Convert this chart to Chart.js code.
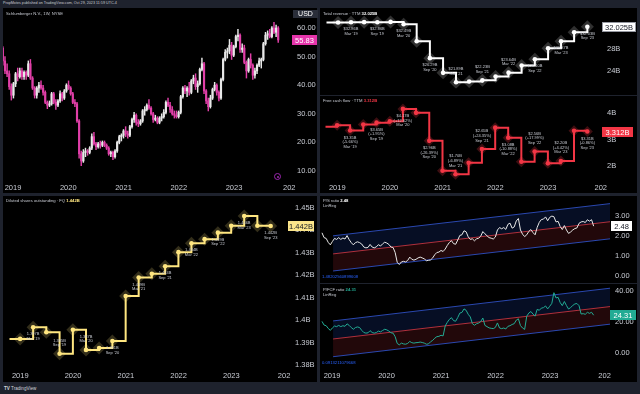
<!DOCTYPE html>
<html><head><meta charset="utf-8"><title>SLB fundamentals</title>
<script src="https://cdn.jsdelivr.net/npm/chart.js@4.4.1/dist/chart.umd.min.js"></script>
<style>
html,body{margin:0;padding:0;width:640px;height:394px;overflow:hidden;background:#1e222d;font-family:"Liberation Sans",Arial,sans-serif;}
.pane{position:absolute;background:#000;}
canvas{position:absolute;display:block;}
.t{position:absolute;white-space:nowrap;color:#c9ccd4;font-size:4.2px;line-height:5px;}
.t b{font-weight:bold;}
</style></head>
<body>
<div class="t" style="left:3px;top:1px;font-size:3.7px;">PropMotes published on TradingView.com, Oct 29, 2023 11:59 UTC-4</div>
<div class="pane" style="left:3px;top:8px;width:314px;height:185px"></div>
<div class="pane" style="left:320px;top:8px;width:317px;height:87px"></div>
<div class="pane" style="left:320px;top:96px;width:317px;height:97px"></div>
<div class="pane" style="left:3px;top:196px;width:314px;height:186px"></div>
<div class="pane" style="left:320px;top:196px;width:317px;height:87px"></div>
<div class="pane" style="left:320px;top:284px;width:317px;height:98px"></div>
<canvas id="cPrice" width="314" height="185" style="left:3px;top:8px"></canvas>
<canvas id="cRev" width="317" height="87" style="left:320px;top:8px"></canvas>
<canvas id="cFcf" width="317" height="97" style="left:320px;top:96px"></canvas>
<canvas id="cSh" width="314" height="186" style="left:3px;top:196px"></canvas>
<canvas id="cPs" width="317" height="87" style="left:320px;top:196px"></canvas>
<canvas id="cPf" width="317" height="98" style="left:320px;top:284px"></canvas>

<div class="t" style="left:6px;top:11px">Schlumberger N.V., 1W, NYSE</div>
<div style="position:absolute;left:293px;top:10px;width:25px;height:8px;background:#2a2e39;color:#fff;font-size:7px;line-height:8px;text-align:center">USD</div>
<div style="position:absolute;left:274px;top:173px;width:5px;height:5px;border:1px solid #9c27b0;border-radius:50%"></div>
<div style="position:absolute;left:276.5px;top:175.5px;width:2px;height:2px;background:#9c27b0;border-radius:50%"></div>
<div class="t" style="left:323px;top:11px">Total revenue · TTM <b style="color:#fff">32.025B</b></div>
<div class="t" style="left:323px;top:98px">Free cash flow · TTM <b style="color:#f23645">3.312B</b></div>
<div class="t" style="left:6px;top:198px">Diluted shares outstanding · FQ <b style="color:#ffe680">1.442B</b></div>
<div class="t" style="left:323px;top:198px">P/S ratio <b style="color:#fff">2.48</b><br>LinReg</div>
<div class="t" style="left:322px;top:274px;color:#2962ff">1.48202560899608</div>
<div class="t" style="left:323px;top:287px">P/FCF ratio <b style="color:#22ab94">24.31</b><br>LinReg</div>
<div class="t" style="left:322px;top:360px;color:#2962ff">0.0913211079668</div>
<div class="t" style="left:4px;top:386px;font-size:4.6px;color:#d1d4dc"><b>TV</b> TradingView</div>

<script>
// ---------------- DATA ----------------
const yearTicks  = [2019, 2020, 2021, 2022, 2023, 2024];
const yearLabels = ['2019', '2020', '2021', '2022', '2023', '202'];

// Schlumberger weekly chart, read every 2 weeks starting 2018-10-26
const priceStart = [2018, 9, 26];
const priceStepDays = 14;
const priceOpen = [
 53,48.5,45,44,39.5,36.5,40.5,44,43,45,
 43,44.5,43.5,47.5,42.5,39,36.5,39,40,39,
 37.5,34,33,33.5,37,34,33,34.5,37,35.5,
 38,40,39,37,34,33.5,27.5,16,13.5,16.5,
 17,16.5,18,22,19.5,18.5,19.5,19,20,19,
 18,16,16.5,15,17,20,22,22.5,24,23,
 22.5,25.5,28,29.5,27,26.5,27.5,31,31.5,33,
 32,30,28,28.5,27,28.5,29,30.5,34,33,
 31.5,30,29.5,29,30.5,36,39,38,39,37.5,
 41.5,42.5,39.5,40.5,45.5,47.5,38,34.5,32.5,35.5,
 38.5,40,37.5,35.5,42,49,51.5,52,54,50.5,
 53.5,57,57.5,52.5,53,48,45,49,47,43.5,
 45,47,48.5,49,54.5,57.5,58,57,60,58.5,
 60];
const priceHigh = [
 53.5,50,47.5,45,40.5,41,44.5,46,46,46,
 45,45,48.5,49,43,39.5,39.5,41,41.5,40,
 38,34.5,34.5,37.5,37.5,35,35,38,37.5,38.5,
 40.5,41.5,39.5,37.5,35,34,28,17,17.5,18,
 17.5,18.5,23,23.5,20,20,20.5,20.5,20.5,19.5,
 18.5,17,17,17.5,20.5,22.5,23,24.5,25.5,24,
 26,28.5,30.5,30,28,28,31.5,32.5,33.5,35,
 32.5,30.5,29.5,29,29,30,31.5,34.5,35.5,34,
 32.5,31,31,31,36.5,39.5,40,39.5,41,42,
 43.5,44,41.5,46,49.5,48,38.5,35.5,36.5,39,
 41,40.5,38,42.5,49.5,52.5,53,56,55,54,
 57.5,59.5,58,54.5,54,48.5,49.5,51,47.5,46,
 47.5,49.5,49.5,55,58.5,59,59.5,60.5,62,61,
 60.5];
const priceLow = [
 47,44,43,38.5,34.8,35.5,39.5,41.5,42.5,42,
 42,42,43,42,38.5,35.5,35.5,37.5,38.5,36.5,
 33.5,31.8,32.5,33,33.5,31.5,32.5,34,34.5,35,
 37.5,38.5,36.5,33.5,32.5,27,14.5,11.9,13,15,
 15.5,16,17.5,19,17.5,18,18,18.5,18.5,17.5,
 15.5,15,14,14.5,16.5,19.5,20.5,21.5,22,21.5,
 22,25,27,26,25.5,26,27,29.5,31,31.5,
 29.5,27,27.5,26.5,26.5,27.5,28.5,30,32.5,30.5,
 29.5,28.5,28.5,28.5,30,35.5,37,36,36.5,37,
 40.5,38.5,37.5,40,45,37,33.5,31,32,35,
 38,36.5,34.5,35,41.5,48.5,49.5,51,49,50,
 53,55.5,51.5,51.5,47.5,42.5,44.5,46,42,42.5,
 44,46.5,46,48.5,54,56,56.5,56.5,58,57,
 55];
const priceClose = [
 48.5,45,44,39.5,36.5,40.5,44,43,45,43,
 44.5,43.5,47.5,42.5,39,36.5,39,40,39,37.5,
 34,33,33.5,37,34,33,34.5,37,35.5,38,
 40,39,37,34,33.5,27.5,16,13.5,16.5,17,
 16.5,18,22,19.5,18.5,19.5,19,20,19,18,
 16,16.5,15,17,20,22,22.5,24,23,22.5,
 25.5,28,29.5,27,26.5,27.5,31,31.5,33,32,
 30,28,28.5,27,28.5,29,30.5,34,33,31.5,
 30,29.5,29,30.5,36,39,38,39,37.5,41.5,
 42.5,39.5,40.5,45.5,47.5,38,34.5,32.5,35.5,38.5,
 40,37.5,35.5,42,49,51.5,52,54,50.5,53.5,
 57,57.5,52.5,53,48,45,49,47,43.5,45,
 47,48.5,49,54.5,57.5,58,57,60,58.5,60,
 55.83];

// P/S and P/FCF ratios on the same 2-week dates
const psRatio = [
 2.15,1.91,1.87,1.67,1.55,1.72,1.87,1.82,1.91,1.82,
 1.89,1.84,2.01,1.81,1.66,1.55,1.66,1.70,1.66,1.59,
 1.44,1.40,1.42,1.57,1.44,1.40,1.45,1.56,1.49,1.60,
 1.68,1.64,1.57,1.44,1.42,1.17,0.68,0.57,0.70,0.73,
 0.70,0.77,0.94,0.83,0.79,0.83,0.90,0.94,0.90,0.85,
 0.76,0.78,0.80,0.90,1.06,1.17,1.19,1.27,1.22,1.34,
 1.52,1.67,1.76,1.61,1.58,1.79,2.02,2.05,2.25,2.20,
 1.95,1.82,1.85,1.75,1.85,1.88,1.98,2.21,2.10,2.00,
 1.91,1.88,1.84,1.94,2.29,2.41,2.35,2.41,2.32,2.57,
 2.63,2.38,2.44,2.74,2.86,2.29,2.08,1.96,2.05,2.22,
 2.31,2.16,2.05,2.42,2.67,2.81,2.83,2.94,2.75,2.92,
 2.98,2.95,2.69,2.72,2.46,2.31,2.51,2.29,2.12,2.19,
 2.29,2.36,2.39,2.62,2.69,2.71,2.66,2.80,2.73,2.80,
 2.48];
const pfcfRatio = [
 20.3,17.9,17.5,15.7,14.5,16.1,17.3,16.9,17.7,16.9,
 17.5,17.1,18.7,17.7,16.3,15.2,16.3,16.7,16.3,14.5,
 13.1,12.7,12.9,14.3,13.1,12.7,13.1,14.0,13.5,14.4,
 15.2,14.8,14.0,12.9,12.7,10.4,6.0,5.1,6.2,5.7,
 5.5,6.0,7.3,6.5,6.2,6.5,6.6,6.9,6.6,6.2,
 5.5,5.7,7.1,8.0,9.4,10.4,10.6,11.3,10.9,17.3,
 19.7,21.6,22.7,20.8,20.4,22.8,25.7,26.1,28.4,27.5,
 24.9,23.2,18.8,17.8,18.8,19.2,20.2,22.5,17.7,16.9,
 16.1,15.8,15.6,16.4,19.3,16.0,15.6,16.0,15.4,17.1,
 17.5,18.3,18.8,21.1,22.0,17.6,16.0,15.1,23.7,25.7,
 26.7,25.0,23.7,28.1,27.5,28.9,29.2,30.3,28.4,30.1,
 32.0,38.9,35.5,35.9,32.5,30.5,33.2,30.6,28.3,29.3,
 30.6,31.6,31.9,30.5,25.1,25.3,24.9,26.2,25.5,26.2,
 24.31];

// Linear-regression channels (start / end of the channel)
const chanYears = [2019.02, 2024.10];
const psUpper = [2.0, 3.6],  psMid = [1.1, 2.7],  psLower = [0.25, 1.85];
const pfUpper = [20.6, 41.8], pfMid = [8.9, 29.9], pfLower = [-2.6, 18.5];

// Quarterly fundamentals
const quarterEnds = ['2018-09-30','2018-12-31','2019-03-31','2019-06-30','2019-09-30','2019-12-31',
 '2020-03-31','2020-06-30','2020-09-30','2020-12-31','2021-03-31','2021-06-30','2021-09-30','2021-12-31',
 '2022-03-31','2022-06-30','2022-09-30','2022-12-31','2023-03-31','2023-06-30','2023-09-30'];
const revenueTTM = [32.82,32.82,32.86,32.87,32.86,32.92,32.49,29.39,26.29,23.60,21.89,22.03,22.23,22.93,23.64,24.94,26.10,28.09,29.37,31.02,32.025];
const fcfTTM     = [3.49,3.55,3.35,3.58,3.65,3.70,4.17,4.02,2.96,1.83,1.70,2.13,2.65,3.46,3.08,2.17,2.56,2.11,2.20,3.34,3.312];
const sharesFQ   = [1.3916,1.3916,1.3968,1.3946,1.385,1.3957,1.3867,1.3875,1.3907,1.4107,1.419,1.4207,1.424,1.4303,1.4343,1.4361,1.439,1.4421,1.4464,1.4421,1.442];

// Point annotations (every second quarter)
const labelIdx     = [2,4,6,8,10,12,14,16,18,20];
const labelPeriods = ["Mar '19","Sep '19","Mar '20","Sep '20","Mar '21","Sep '21","Mar '22","Sep '22","Mar '23","Sep '23"];
const revLabelText = ['$32.86B','$32.86B','$32.49B','$26.29B','$21.89B','$22.23B','$23.64B','$26.10B','$29.37B','$32.03B'];
const revLabelPos  = ['b','b','b','b','a','a','a','b','b','b'];
const fcfLabelText = ['$3.35B','$3.65B','$4.17B','$2.96B','$1.70B','$2.65B','$3.08B','$2.56B','$2.20B','$3.31B'];
const fcfChange    = ['(-5.66%)','(+1.95%)','(+12.62%)','(-26.39%)','(-6.89%)','(+24.35%)','(-10.88%)','(+17.99%)','(+4.42%)','(-0.86%)'];
const fcfLabelPos  = ['b','b','b','b','a','a','b','a','a','b'];
const shLabelText  = ['1.397B','1.385B','1.387B','1.391B','1.419B','1.424B','1.434B','1.439B','1.446B','1.442B'];
const shLabelPos   = ['b','a','a','b','b','b','b','b','b','b'];

// ---------------- HELPERS ----------------
const TICK = '#c9ccd4';
const FONT = '"Liberation Sans", Arial, sans-serif';
Chart.defaults.font.family = FONT;

function yearOf(d) {
  const y = d.getUTCFullYear();
  const s = Date.UTC(y, 0, 1), e = Date.UTC(y + 1, 0, 1);
  return y + (d.getTime() - s) / (e - s);
}
function parseDate(str) { const p = str.split('-').map(Number); return new Date(Date.UTC(p[0], p[1] - 1, p[2])); }

const candleX = priceClose.map((_, i) => yearOf(new Date(Date.UTC(priceStart[0], priceStart[1], priceStart[2] + priceStepDays * i))));
const qX = quarterEnds.map(s => yearOf(parseDate(s)));

function makeScales(o) {
  return {
    x: {
      type: 'linear', min: o.xMin, max: o.xMax, display: !!o.xH, offset: false,
      grid: { display: false, drawTicks: false, offset: false }, border: { display: false },
      ticks: { color: TICK, font: { size: 7.5 }, padding: 3, maxRotation: 0, autoSkip: false,
               callback: v => { const k = yearTicks.indexOf(v); return k < 0 ? '' : yearLabels[k]; } },
      afterBuildTicks: s => { s.ticks = yearTicks.map(v => ({ value: v })); },
      afterFit: s => { s.height = o.xH || 0; s.paddingLeft = 0; s.paddingRight = 0; }
    },
    y: {
      position: 'right', min: o.yMin, max: o.yMax,
      grid: { display: false, drawTicks: false }, border: { display: false },
      ticks: { color: TICK, font: { size: 7.5 }, padding: o.yPad, callback: o.yFmt },
      afterBuildTicks: s => { s.ticks = o.yTicks.map(v => ({ value: v })); },
      afterFit: s => { s.width = o.yW; s.paddingTop = 0; s.paddingBottom = 0; }
    }
  };
}
function makeOptions(o) {
  return {
    responsive: false, animation: false, devicePixelRatio: 1, events: [],
    layout: { padding: 0 },
    plugins: { legend: { display: false }, tooltip: { enabled: false },
               filler: { drawTime: 'beforeDatasetsDraw', propagate: false } },
    scales: makeScales(o)
  };
}
function valueBox(value, text, bg, fg, dx, w, border) {
  return { id: 'valueBox', afterDraw(chart) {
    const ctx = chart.ctx, a = chart.chartArea;
    const y = Math.round(chart.scales.y.getPixelForValue(value));
    const x0 = a.right + dx;
    ctx.save();
    ctx.fillStyle = bg; ctx.fillRect(x0, y - 5, w, 10);
    if (border) { ctx.strokeStyle = border; ctx.lineWidth = 1; ctx.strokeRect(x0 + 0.5, y - 4.5, w - 1, 9); }
    ctx.fillStyle = fg; ctx.font = '7.5px ' + FONT; ctx.textAlign = 'center'; ctx.textBaseline = 'middle';
    ctx.fillText(text, x0 + w / 2, y + 0.5);
    ctx.restore();
  } };
}
function pointLabels(dsIndex, idx, lines, pos) {
  return { id: 'pointLabels', afterDatasetsDraw(chart) {
    const ctx = chart.ctx, meta = chart.getDatasetMeta(dsIndex);
    ctx.save(); ctx.font = '4px ' + FONT; ctx.fillStyle = '#c9ccd4';
    ctx.textAlign = 'center'; ctx.textBaseline = 'top';
    const lh = 4.6;
    idx.forEach((di, k) => {
      const p = meta.data[di]; if (!p) return;
      const ls = lines[k];
      const y0 = pos[k] === 'a' ? p.y - 6 - ls.length * lh : p.y + 5;
      ls.forEach((t, j) => ctx.fillText(t, p.x, y0 + j * lh));
    });
    ctx.restore();
  } };
}
function stepChart(id, values, lineColor, diamondColor, diamondR, o, labels, box) {
  const pts = qX.map((x, i) => ({ x, y: values[i] }));
  return new Chart(document.getElementById(id), {
    type: 'line',
    data: { datasets: [
      { data: pts, borderColor: lineColor, borderWidth: 2, stepped: true, fill: false,
        pointRadius: c => c.dataIndex === 0 ? 0 : 2.3, pointBackgroundColor: lineColor, pointBorderWidth: 0 },
      { data: pts, showLine: false, pointStyle: 'rectRot',
        pointRadius: c => c.dataIndex === 0 ? 0 : diamondR, pointBackgroundColor: diamondColor, pointBorderWidth: 0 }
    ] },
    options: makeOptions(o),
    plugins: [labels, box]
  });
}
function channelChart(id, values, lineColor, up, mid, lo, o, box) {
  const ch = arr => chanYears.map((x, i) => ({ x, y: arr[i] }));
  return new Chart(document.getElementById(id), {
    type: 'line',
    data: { datasets: [
      { data: candleX.map((x, i) => ({ x, y: values[i] })), borderColor: lineColor, borderWidth: 1, pointRadius: 0, fill: false },
      { data: ch(up), borderColor: '#2a48b0', borderWidth: 1, pointRadius: 0, fill: '+1', backgroundColor: 'rgba(41,98,255,0.14)' },
      { data: ch(mid), borderColor: '#b0303c', borderWidth: 1, pointRadius: 0, fill: '+1', backgroundColor: 'rgba(242,54,69,0.14)' },
      { data: ch(lo), borderColor: '#2a48b0', borderWidth: 1, pointRadius: 0, fill: false }
    ] },
    options: makeOptions(o),
    plugins: [box]
  });
}

// ---------------- CHARTS ----------------
const UP = '#e8e8e8', DOWN = '#e03fa8';
const candleColors = priceClose.map((c, i) => c >= priceOpen[i] ? UP : DOWN);
new Chart(document.getElementById('cPrice'), {
  type: 'bar',
  data: { datasets: [
    { data: candleX.map((x, i) => ({ x, y: [priceOpen[i], priceClose[i]] })), backgroundColor: candleColors,
      barThickness: 1.5, grouped: false, minBarLength: 1 },
    { data: candleX.map((x, i) => ({ x, y: [priceLow[i], priceHigh[i]] })), backgroundColor: candleColors,
      barThickness: 0.8, grouped: false }
  ] },
  options: makeOptions({ xMin: 2018.819, xMax: 2023.995, xH: 13, yMin: 6.85, yMax: 67.0,
    yTicks: [10, 20, 30, 40, 50, 60], yW: 28, yPad: 8, yFmt: v => v.toFixed(2) }),
  plugins: [valueBox(55.83, '55.83', '#e535ab', '#ffffff', 3, 25)]
});

stepChart('cRev', revenueTTM, '#ffffff', 'rgba(140,140,140,0.34)', 6.5,
  { xMin: 2018.777, xMax: 2024.005, xH: 0, yMin: 20.74, yMax: 34.27, yTicks: [24, 28], yW: 36, yPad: 6, yFmt: v => v + 'B' },
  pointLabels(0, labelIdx, revLabelText.map((t, k) => [t, labelPeriods[k]]), revLabelPos),
  valueBox(32.025, '32.025B', '#ffffff', '#131722', 1, 34, '#9598a1'));

stepChart('cFcf', fcfTTM, '#f23645', 'rgba(242,54,69,0.25)', 5.5,
  { xMin: 2018.777, xMax: 2024.005, xH: 13, yMin: 1.48, yMax: 4.449, yTicks: [2, 3, 4], yW: 36, yPad: 6, yFmt: v => v + 'B' },
  pointLabels(0, labelIdx, fcfLabelText.map((t, k) => [t, fcfChange[k], labelPeriods[k]]), fcfLabelPos),
  valueBox(3.312, '3.312B', '#f23645', '#ffffff', 1, 31));

stepChart('cSh', sharesFQ, '#ffe680', 'rgba(255,230,128,0.2)', 6.5,
  { xMin: 2018.796, xMax: 2024.055, xH: 14, yMin: 1.37863, yMax: 1.45245,
    yTicks: [1.38, 1.39, 1.4, 1.41, 1.42, 1.43, 1.44, 1.45], yW: 30, yPad: 8, yFmt: v => (+v.toFixed(2)) + 'B' },
  pointLabels(0, labelIdx, shLabelText.map((t, k) => [t, labelPeriods[k]]), shLabelPos),
  valueBox(1.442, '1.442B', '#fbe58a', '#131722', 1, 26));

channelChart('cPs', psRatio, '#e8e8e8', psUpper, psMid, psLower,
  { xMin: 2018.78, xMax: 2024.10, xH: 0, yMin: -0.348, yMax: 3.98, yTicks: [0, 1, 2, 3], yW: 27, yPad: 5, yFmt: v => v.toFixed(2) },
  valueBox(2.48, '2.48', '#ffffff', '#131722', 1, 21));

channelChart('cPf', pfcfRatio, '#22ab94', pfUpper, pfMid, pfLower,
  { xMin: 2018.78, xMax: 2024.10, xH: 14, yMin: -9.92, yMax: 44.54, yTicks: [0, 20, 40], yW: 27, yPad: 5, yFmt: v => v.toFixed(2) },
  valueBox(24.31, '24.31', '#22ab94', '#ffffff', 0, 26));
</script>
</body></html>
